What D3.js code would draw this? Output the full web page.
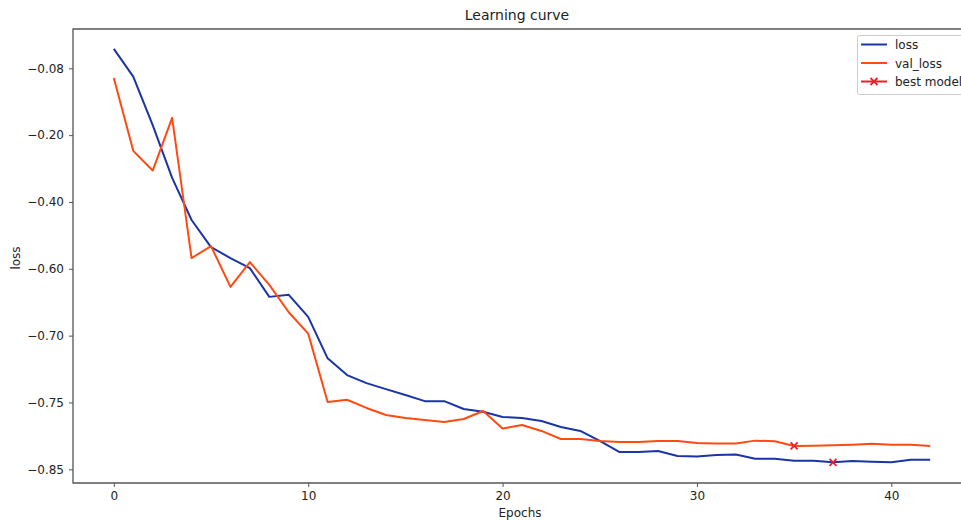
<!DOCTYPE html>
<meta charset="utf-8">
<style>
body { margin: 0; background: #fff; }
text { font-family: "DejaVu Sans", sans-serif; fill: #222; }
</style>
<svg width="961" height="521"></svg>
<script src="https://d3js.org/d3.v7.min.js"></script>
<script>

// epochs 0..42
var loss = [-0.045, -0.095, -0.182, -0.328, -0.454, -0.535, -0.568, -0.598, -0.642, -0.639,
  -0.672, -0.717, -0.7295, -0.7355, -0.740, -0.7444, -0.749, -0.749, -0.7597, -0.764,
  -0.7717, -0.7732, -0.7777, -0.7867, -0.7926, -0.8076, -0.824, -0.824, -0.8227, -0.830,
  -0.8308, -0.8286, -0.8278, -0.8341, -0.8341, -0.8371, -0.8371, -0.8395, -0.8376, -0.8386,
  -0.8395, -0.8356, -0.8356];

var valLoss = [-0.0974, -0.247, -0.306, -0.169, -0.568, -0.532, -0.627, -0.580, -0.624, -0.665,
  -0.697, -0.7497, -0.748, -0.7582, -0.7687, -0.7732, -0.7762, -0.7792, -0.7747, -0.7627,
  -0.789, -0.7837, -0.7926, -0.8046, -0.8046, -0.8076, -0.8091, -0.8091, -0.8076, -0.8076,
  -0.8106, -0.8113, -0.8113, -0.8071, -0.808, -0.815, -0.8146, -0.814, -0.8131, -0.8116,
  -0.8131, -0.8131, -0.815];

// best model markers: [epoch, series]
var bestModel = [[35, "val_loss"], [37, "loss"]];

// y tick labels (the axis is evenly spaced between these values)
var yTicks = [-0.08, -0.20, -0.40, -0.60, -0.70, -0.75, -0.85];
var xTicks = [0, 10, 20, 30, 40];

var svg = d3.select("svg");
var mLeft = 73, mRight = 971, mTop = 29, mBottom = 483;

var x = d3.scaleLinear().domain([-2.1, 44.1]).range([mLeft, mRight]);
var step = (469.3 - 68.3) / (yTicks.length - 1);
var y = d3.scaleLinear()
    .domain(yTicks)
    .range(yTicks.map(function(d, i) { return 68.3 + i * step; }));

var blue = "#1b34a6", orange = "#ff4a12", red = "#e8222c";

// lines
var line = d3.line()
    .x(function(d, i) { return x(i); })
    .y(function(d) { return y(d); });

svg.append("path").datum(loss)
    .attr("fill", "none").attr("stroke", blue).attr("stroke-width", 2)
    .attr("stroke-linejoin", "round").attr("d", line);

svg.append("path").datum(valLoss)
    .attr("fill", "none").attr("stroke", orange).attr("stroke-width", 2)
    .attr("stroke-linejoin", "round").attr("d", line);

function cross(g, cx, cy, r) {
  g.append("path")
      .attr("d", "M" + (cx - r) + "," + (cy - r) + "L" + (cx + r) + "," + (cy + r) +
                 "M" + (cx - r) + "," + (cy + r) + "L" + (cx + r) + "," + (cy - r))
      .attr("stroke", red).attr("stroke-width", 1.8).attr("fill", "none");
}

bestModel.forEach(function(b) {
  var v = b[1] == "loss" ? loss[b[0]] : valLoss[b[0]];
  cross(svg, x(b[0]), y(v), 3.5);
});

// frame
svg.append("path")
    .attr("d", "M" + mLeft + "," + mBottom + "V" + mTop + "H" + mRight + "V" + mBottom + "Z")
    .attr("fill", "none").attr("stroke", "#555").attr("stroke-width", 1.3);

// x axis
var xAxis = svg.append("g").attr("transform", "translate(0," + mBottom + ")")
    .call(d3.axisBottom(x).tickValues(xTicks).tickSize(4).tickPadding(4));
xAxis.select(".domain").remove();
xAxis.selectAll("line").attr("stroke", "#555");
xAxis.selectAll("text").style("font-size", "12px").attr("fill", "#222");

// y axis
var yAxis = svg.append("g").attr("transform", "translate(" + mLeft + ",0)")
    .call(d3.axisLeft(y).tickValues(yTicks).tickFormat(d3.format(".2f")).tickSize(4).tickPadding(5));
yAxis.select(".domain").remove();
yAxis.selectAll("line").attr("stroke", "#555");
yAxis.selectAll("text").style("font-size", "12px").attr("fill", "#222");

// labels
svg.append("text").attr("x", 517).attr("y", 20).attr("text-anchor", "middle")
    .style("font-size", "14px").text("Learning curve");
svg.append("text").attr("x", 520).attr("y", 517).attr("text-anchor", "middle")
    .style("font-size", "12px").text("Epochs");
svg.append("text").attr("transform", "translate(20,258) rotate(-90)")
    .attr("text-anchor", "middle").style("font-size", "12px").text("loss");

// legend
var leg = svg.append("g");
leg.append("rect").attr("x", 857.5).attr("y", 35.5).attr("width", 120).attr("height", 59)
    .attr("rx", 2).attr("fill", "#fff").attr("stroke", "#ccc");
var items = [["loss", blue], ["val_loss", orange], ["best model", red]];
items.forEach(function(it, i) {
  var yy = 44.5 + i * 18.5;
  leg.append("line").attr("x1", 861).attr("x2", 887).attr("y1", yy).attr("y2", yy)
      .attr("stroke", it[1]).attr("stroke-width", 2);
  if (i == 2) cross(leg, 874, yy, 3.5);
  leg.append("text").attr("x", 895).attr("y", yy + 4.5).style("font-size", "12px").text(it[0]);
});

</script>
